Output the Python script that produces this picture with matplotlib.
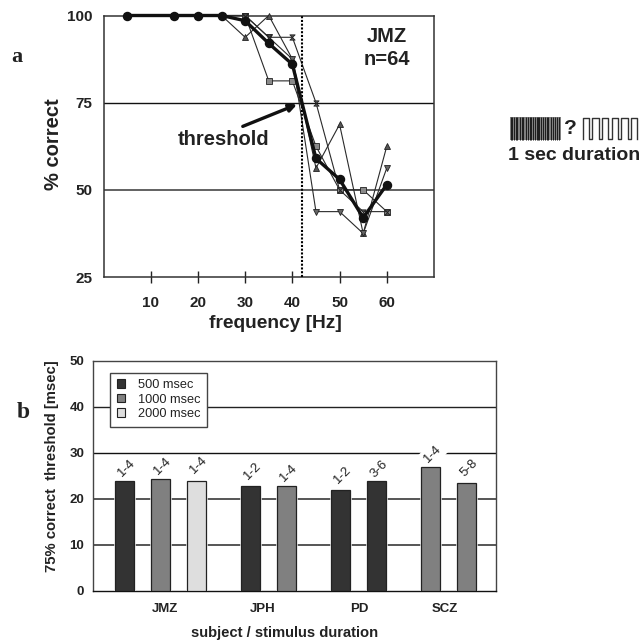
import numpy as np
import matplotlib
matplotlib.use('Agg')
import matplotlib.pyplot as plt
from matplotlib.patches import Patch, Rectangle
from matplotlib.path import Path
import matplotlib.patheffects as pe

plt.rcParams['font.family'] = ['Liberation Sans', 'DejaVu Sans']

W, H = 640, 643

# panel a: percent correct against frequency
freq = [5, 15, 20, 25, 30, 35, 40, 45, 50, 55, 60]
mean_correct = [100, 100, 100, 100, 98.5, 92, 86, 59, 53, 42, 51.5]
block_square = [100, 100, 100, 100, 100, 81.25, 81.25, 62.5, 50, 50, 43.75]
block_up = [100, 100, 100, 100, 93.75, 100, 87.5, 56.25, 68.75, 37.5, 62.5]
block_down = [100, 100, 100, 100, 100, 93.75, 87.5, 43.75, 43.75, 37.5, 56.25]
block_hour = [100, 100, 100, 100, 100, 93.75, 93.75, 75, 50, 43.75, 43.75]
threshold_hz = 42
freq_ticks = [10, 20, 30, 40, 50, 60]
pct_ticks = [25, 50, 75, 100]

# panel b: thresholds per subject
bar_slots = [0, 1, 2, 3.5, 4.5, 6, 7, 8.5, 9.5]
bar_values = [23.8, 24.3, 23.8, 22.75, 22.75, 22.0, 23.8, 26.8, 23.5]
bar_groups = ['500', '1000', '2000', '500', '1000', '500', '500', '1000', '1000']
bar_labels = ['1-4', '1-4', '1-4', '1-2', '1-4', '1-2', '3-6', '1-4', '5-8']
label_heights = [26.7, 27.1, 27.4, 26.0, 25.5, 25.2, 26.5, 29.7, 26.7]
subjects = ['JMZ', 'JPH', 'PD', 'SCZ']
subject_slots = [1.12, 3.85, 6.52, 8.92]
duration_names = {'500': '500 msec', '1000': '1000 msec', '2000': '2000 msec'}
duration_colors = {'500': '#333333', '1000': '#808080', '2000': '#dedede'}

# stimulus sketch, x positions of the dark stripes in pixels
stripes = [510.5, 512, 514, 516, 517, 520, 521.5, 523, 526, 528, 529.5, 531, 533, 535,
           536.5, 538, 539, 541, 543, 545, 546.5, 548, 551, 553, 554.5, 557, 559]
wave_edges = [582.5, 589, 592, 598.5, 601.5, 608, 611.5, 618, 621, 627.5, 630.5, 637]


def axes_px(fig, left, top, right, bottom):
    return fig.add_axes([left / W, 1 - bottom / H, (right - left) / W, (bottom - top) / H])


fig = plt.figure(figsize=(W / 100, H / 100), dpi=100)

# ---- a ----
ax = axes_px(fig, 103.5, 15.5, 434, 277)
ax.set_xlim(0, 70)
ax.set_ylim(25, 100)
ax.axhline(75, color='#111111', lw=1.0, zorder=1)
ax.axhline(50, color='#555555', lw=1.3, zorder=1)

hourglass = Path([(-1, -1), (1, -1), (-1, 1), (1, 1), (-1, -1)], closed=True)
ln = dict(color='#2a2a2a', lw=0.8, ms=3.8, mec='#222222', mew=0.6, zorder=3, clip_on=False)
ax.plot(freq, block_square, marker='s', mfc='#8a8a8a', **ln)
ax.plot(freq, block_up, marker='^', mfc='#555555', **ln)
ax.plot(freq, block_down, marker='v', mfc='#666666', **ln)
ax.plot(freq, block_hour, marker=hourglass, mfc='#555555', **ln)
ax.plot(freq, mean_correct, color='#111111', lw=2.4, marker='o', ms=5.8, zorder=5, clip_on=False)

ax.axvline(threshold_hz, color='black', lw=1.5, ls=(0, (1, 0.8)), zorder=4)
ax.annotate('', xy=(41.0, 74.5), xytext=(29.5, 68.2),
            arrowprops=dict(arrowstyle='-|>,head_length=0.45,head_width=0.22', color='#111111',
                            lw=2.4, shrinkA=0, shrinkB=0), zorder=6)
ax.text(25.5, 64.3, 'threshold', fontsize=14.5, fontweight='bold', color='#222222',
        ha='center', va='center')
ax.text(60, 93.9, 'JMZ', fontsize=14.5, fontweight='bold', color='#222222', ha='center', va='center')
ax.text(60, 87.3, 'n=64', fontsize=14.5, fontweight='bold', color='#222222', ha='center', va='center')

ax.set_xticks(freq_ticks)
ax.set_yticks(pct_ticks)
ax.tick_params(axis='x', direction='inout', length=8, width=1, color='#222222', pad=10)
ax.tick_params(axis='y', length=0, pad=8)
for t in ax.get_xticklabels() + ax.get_yticklabels():
    t.set_fontsize(11)
    t.set_fontweight('bold')
    t.set_color('#222222')
for s in ax.spines.values():
    s.set_color('#333333')
    s.set_linewidth(1.1)
ax.set_xlabel('frequency [Hz]', fontsize=13.8, fontweight='bold', color='#222222', labelpad=3, x=0.519)
ax.set_ylabel('% correct', fontsize=14.5, fontweight='bold', color='#222222', labelpad=3, y=0.506)

# ---- b ----
bx = axes_px(fig, 93.3, 360.7, 496, 590.7)
bx.set_xlim(-0.86, 10.33)
bx.set_ylim(0, 50)
for v, c, w in [(10, '#555555', 1.4), (20, '#555555', 1.4), (30, '#111111', 1.0), (40, '#222222', 1.0)]:
    bx.axhline(v, color=c, lw=w, zorder=1)

bars = bx.bar(bar_slots, bar_values, width=0.53,
              color=[duration_colors[g] for g in bar_groups],
              edgecolor='#222222', linewidth=0.9, zorder=3)
for b in bars:
    b.set_path_effects([pe.withStroke(linewidth=1.8, foreground='white')])
for sl, h, lab in zip(bar_slots, label_heights, bar_labels):
    # only the tall SCZ label sits on the 30 line and breaks it
    box = dict(fc='white', ec='none', pad=2.5) if h > 28 else None
    bx.text(sl + 0.07, h, lab, rotation=45, fontsize=9.5, color='#222222', ha='center', va='center',
            bbox=box, zorder=2)

bx.set_xticks([])
bx.set_yticks([0, 10, 20, 30, 40, 50])
bx.tick_params(axis='y', length=0, pad=6.5)
for t in bx.get_yticklabels():
    t.set_fontsize(9.5)
    t.set_fontweight('bold')
    t.set_color('#222222')
for s in bx.spines.values():
    s.set_color('#444444')
    s.set_linewidth(1.0)
bx.spines['bottom'].set_color('#111111')
for sl, name in zip(subject_slots, subjects):
    bx.text(sl, -4.0, name, fontsize=9.5, fontweight='bold', color='#222222', ha='center', va='center')
bx.text(4.45, -9.2, 'subject / stimulus duration', fontsize=10.6, fontweight='bold', color='#222222',
        ha='center', va='center')
bx.set_ylabel('75% correct  threshold [msec]', fontsize=10.7, fontweight='bold', color='#222222',
              labelpad=7.5, y=0.542)

handles = [Patch(fc=duration_colors[k], ec='#222222', lw=0.8, label=duration_names[k]) for k in duration_names]
leg = bx.legend(handles=handles, loc='upper left', bbox_to_anchor=(17 / 402.7, 1 - 12 / 230),
                fontsize=9.2, fancybox=False, framealpha=1, edgecolor='#444444', borderaxespad=0,
                handlelength=0.65, handleheight=0.65, handletextpad=1.0, labelspacing=0.2,
                borderpad=0.5, labelcolor='#222222')
leg.get_frame().set_linewidth(1.0)
leg.set_zorder(6)

# ---- overlay in pixel coordinates ----
ov = fig.add_axes([0, 0, 1, 1], facecolor='none')
ov.set_xlim(0, W)
ov.set_ylim(H, 0)
ov.axis('off')
ov.text(17, 57, 'a', family='Liberation Serif', fontsize=16, fontweight='bold', color='#222222', ha='center', va='center')
ov.text(23, 413, 'b', family='Liberation Serif', fontsize=17, fontweight='bold', color='#222222', ha='center', va='center')

ov.add_patch(Rectangle((509.5, 117), 51, 22.5, fc='#808080', ec='none'))
ov.vlines(stripes, 117, 139.5, color='#1c1c1c', lw=0.7)
wave_x = []
wave_y = []
for i, e in enumerate(wave_edges):
    lev = (139, 118) if i % 2 == 0 else (118, 139)
    wave_x += [e, e]
    wave_y += list(lev)
ov.plot(wave_x, wave_y, color='#333333', lw=1.0)
ov.text(570.7, 129, '?', fontsize=15, fontweight='bold', color='#222222', ha='center', va='center')
ov.text(574, 156, '1 sec duration', fontsize=14, fontweight='bold', color='#222222', ha='center', va='center')

fig.savefig('out.png', dpi=100)
